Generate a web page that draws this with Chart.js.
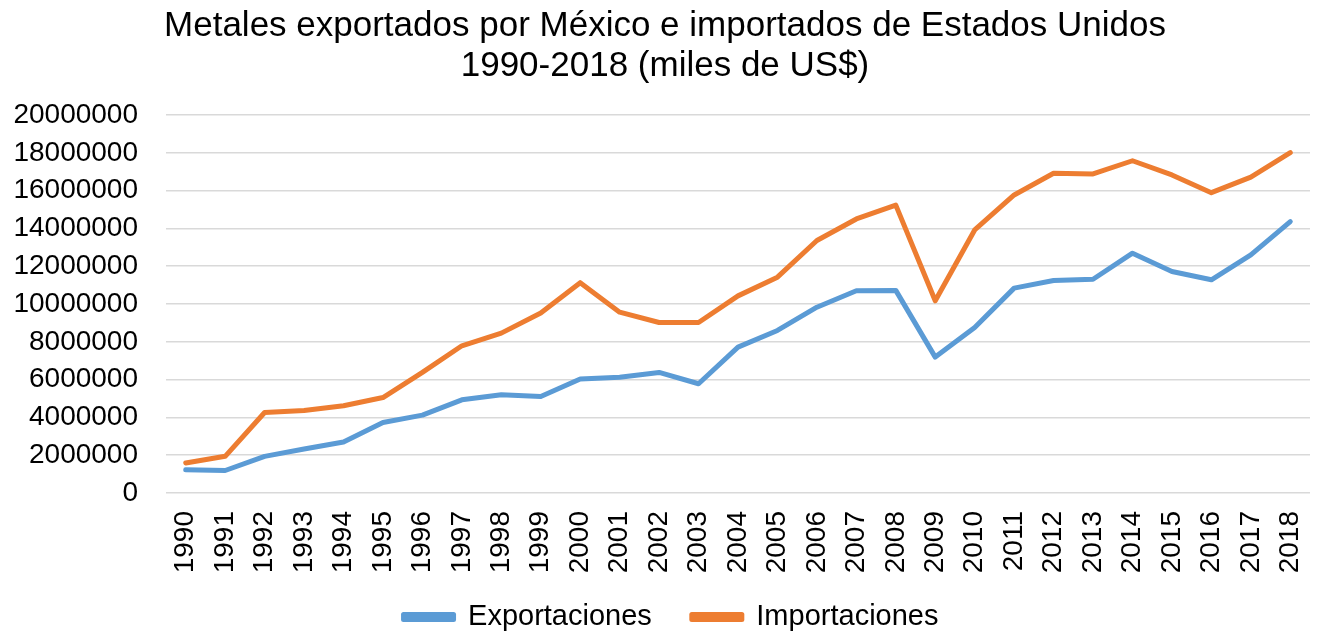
<!DOCTYPE html>
<html>
<head>
<meta charset="utf-8">
<script src="https://cdn.jsdelivr.net/npm/chart.js@4/dist/chart.umd.min.js"></script>
<style>
  html, body { margin: 0; padding: 0; background: #fff; }
  #wrap { width: 1320px; height: 635px; position: relative; }
</style>
</head>
<body>
<div id="wrap"><canvas id="c" width="1320" height="635"></canvas></div>
<script>
const years = ['1990','1991','1992','1993','1994','1995','1996','1997','1998','1999','2000','2001','2002','2003','2004','2005','2006','2007','2008','2009','2010','2011','2012','2013','2014','2015','2016','2017','2018'];
const exportaciones = [1230000,1190000,1940000,2330000,2700000,3730000,4120000,4930000,5200000,5110000,6030000,6130000,6380000,5780000,7720000,8600000,9830000,10700000,10720000,7190000,8760000,10840000,11240000,11310000,12690000,11720000,11280000,12600000,14360000];
const importaciones = [1590000,1940000,4260000,4370000,4620000,5050000,6380000,7790000,8460000,9520000,11130000,9570000,9020000,9020000,10430000,11420000,13360000,14500000,15230000,10170000,13920000,15770000,16920000,16880000,17580000,16830000,15890000,16710000,18010000];
const yTicks = [0,2000000,4000000,6000000,8000000,10000000,12000000,14000000,16000000,18000000,20000000];
const titleLines = ['Metales exportados por México e importados de Estados Unidos', '1990-2018 (miles de US$)'];
const seriesNames = ['Exportaciones', 'Importaciones'];

const FONT = '"Liberation Sans", Arial, sans-serif';
Chart.defaults.font.family = FONT;
Chart.defaults.color = '#000';

const LEGEND_PAD = 40;
const boxShift = {
  id: 'boxShift',
  afterLayout(chart) {
    const lg = chart.legend;
    if (lg) {
      lg.top = 617 - LEGEND_PAD - 14.5;
      lg.bottom = 635;
      lg.height = lg.bottom - lg.top;
      lg.left += 12;
      lg.right += 12;
    }
    const tb = chart.titleBlock;
    if (tb) {
      tb.left += 6;
      tb.right += 6;
    }
  }
};

new Chart(document.getElementById('c'), {
  type: 'line',
  data: {
    labels: years,
    datasets: [
      { label: seriesNames[0], data: exportaciones, borderColor: '#5B9BD5', backgroundColor: '#5B9BD5', borderWidth: 5, pointRadius: 0, tension: 0, borderCapStyle: 'round', borderJoinStyle: 'round' },
      { label: seriesNames[1], data: importaciones, borderColor: '#ED7D31', backgroundColor: '#ED7D31', borderWidth: 5, pointRadius: 0, tension: 0, borderCapStyle: 'round', borderJoinStyle: 'round' }
    ]
  },
  plugins: [boxShift],
  options: {
    responsive: false,
    animation: false,
    devicePixelRatio: 1,
    layout: { padding: { left: 8, right: 10, top: 0, bottom: 0 } },
    plugins: {
      title: {
        display: true,
        text: titleLines,
        font: { size: 35, weight: 'normal', lineHeight: 1.143 },
        color: '#000',
        padding: { top: 6, bottom: 29 }
      },
      legend: {
        display: true,
        position: 'bottom',
        maxHeight: 60,
        labels: {
          boxWidth: 50,
          boxHeight: 5,
          padding: LEGEND_PAD,
          font: { size: 29 },
          color: '#000'
        }
      },
      tooltip: { enabled: false }
    },
    scales: {
      x: {
        offset: true,
        grid: { display: false, drawTicks: false },
        border: { display: false },
        afterFit: (s) => { s.height = 82; s.paddingLeft = 0; s.paddingRight = 0; },
        ticks: { minRotation: 90, maxRotation: 90, autoSkip: false, padding: 18, font: { size: 28 }, color: '#000' }
      },
      y: {
        min: 0,
        max: 20000000,
        afterBuildTicks: (s) => { s.ticks = yTicks.map(v => ({ value: v })); },
        afterFit: (s) => { s.width = 158; },
        grid: { color: '#D9D9D9', lineWidth: 1.5, drawTicks: false },
        border: { display: false },
        ticks: { autoSkip: false, padding: 28, font: { size: 28 }, color: '#000', callback: (v) => String(v) }
      }
    }
  }
});
</script>
</body>
</html>
